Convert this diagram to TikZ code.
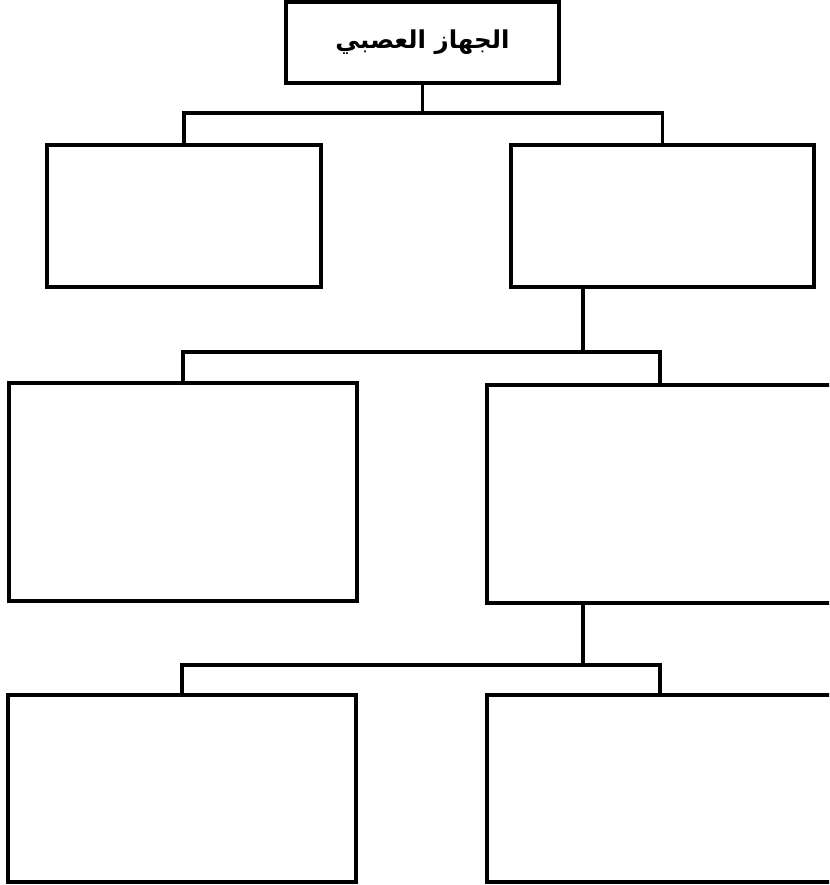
\documentclass[tikz,border=0pt]{standalone}
\usepackage{fontspec}
\usetikzlibrary{positioning}
\newfontfamily\arabicfont[Script=Arabic]{DejaVu Sans}
\TeXXeTstate=1

\begin{document}
\begin{tikzpicture}[x=0.03cm, y=-0.03cm,
      box/.style={draw, line width=2.6pt, inner sep=0pt},
      lnk/.style={line width=2.6pt}]

    \useasboundingbox (0,0) rectangle (829,885);
    \clip (0,0) rectangle (829,885);

    % --- Raiz -------------------------------------------------------------
    \node[box, minimum width=8.19cm, minimum height=2.43cm] (top) at (422.5,42.5)
      {\arabicfont\bfseries\fontsize{21}{24}\selectfont\beginR الجهاز العصبي\endR};

    % --- Nivel 1 ----------------------------------------------------------
    \node[box, minimum width=8.22cm, minimum height=4.26cm] (n1l) at (184,216) {};
    \node[box, minimum width=9.09cm, minimum height=4.26cm] (n1r) at (662.5,216) {};

    % --- Nivel 2 ----------------------------------------------------------
    \node[box, minimum width=10.44cm, minimum height=6.54cm] (n2l) at (183,492) {};
    \node[box, minimum width=10.38cm, minimum height=6.54cm] (n2r) at (660,494) {};

    % --- Nivel 3 ----------------------------------------------------------
    \node[box, minimum width=10.44cm, minimum height=5.61cm] (n3l) at (182,788.5) {};
    \node[box, minimum width=10.38cm, minimum height=5.61cm] (n3r) at (660,788.5) {};

    % --- Conectores -------------------------------------------------------
    \coordinate (j1) at (422.5,113);
    \coordinate (j2) at (583,352);
    \coordinate (j3) at (583,665);

    \draw[lnk] (top.south) -- (j1);
    \draw[lnk] (n1l.north) |- (j1) -| (n1r.north);

    \draw[lnk] (n1r.south -| j2) -- (j2);
    \draw[lnk] (n2l.north) |- (j2) -| (n2r.north);

    \draw[lnk] (n2r.south -| j3) -- (j3);
    \draw[lnk] (n3l.north) |- (j3) -| (n3r.north);
  \end{tikzpicture}
\end{document}
